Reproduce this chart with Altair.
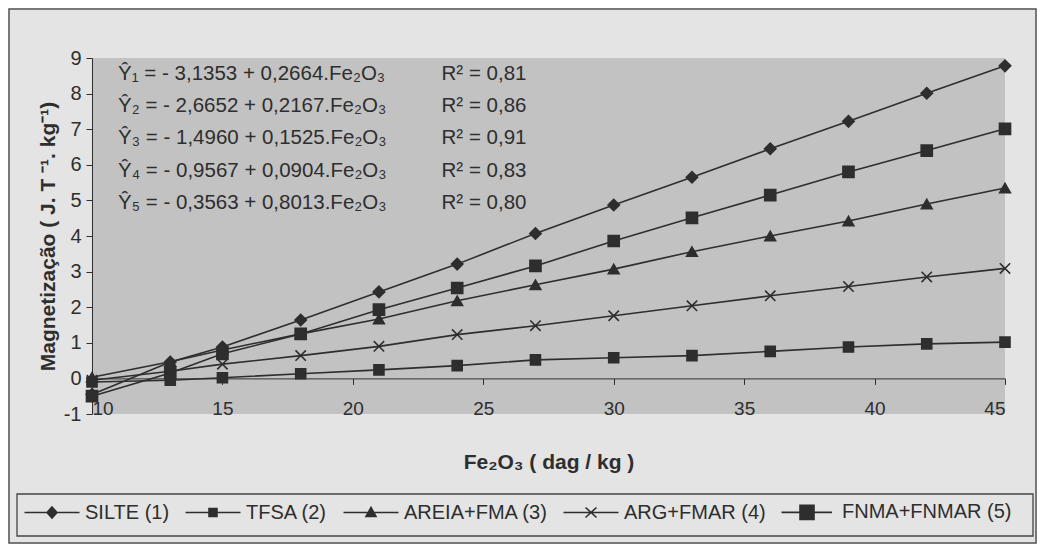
import altair as alt
import pandas as pd

fe2o3 = [10, 13, 15, 18, 21, 24, 27, 30, 33, 36, 39, 42, 45]
silte = [-0.45, 0.46, 0.88, 1.64, 2.43, 3.21, 4.07, 4.87, 5.65, 6.45, 7.22, 8.01, 8.78]
tfsa = [-0.50, 0.15, 0.69, 1.25, 1.93, 2.54, 3.16, 3.86, 4.51, 5.15, 5.80, 6.40, 7.01]
areia = [0.03, 0.47, 0.80, 1.25, 1.67, 2.18, 2.63, 3.07, 3.56, 4.00, 4.42, 4.90, 5.35]
arg = [-0.05, 0.20, 0.40, 0.64, 0.90, 1.23, 1.48, 1.76, 2.04, 2.32, 2.58, 2.85, 3.09]
fnma = [-0.10, -0.05, 0.02, 0.13, 0.24, 0.36, 0.52, 0.58, 0.64, 0.76, 0.88, 0.97, 1.02]

series_names = ["SILTE (1)", "TFSA (2)", "AREIA+FMA (3)", "ARG+FMAR (4)", "FNMA+FNMAR (5)"]
series_values = [silte, tfsa, areia, arg, fnma]

eq_texts = [
    "Ŷ₁ = - 3,1353 + 0,2664.Fe₂O₃",
    "Ŷ₂ = - 2,6652 + 0,2167.Fe₂O₃",
    "Ŷ₃ = - 1,4960 + 0,1525.Fe₂O₃",
    "Ŷ₄ = - 0,9567 + 0,0904.Fe₂O₃",
    "Ŷ₅ = - 0,3563 + 0,8013.Fe₂O₃",
]
r2_texts = ["R² = 0,81", "R² = 0,86", "R² = 0,91", "R² = 0,83", "R² = 0,80"]

x_ticks = [10, 15, 20, 25, 30, 35, 40, 45]
y_ticks = [-1, 0, 1, 2, 3, 4, 5, 6, 7, 8, 9]

INK = "#2e2e2e"
FONT = "Liberation Sans"

rows = []
for name, vals in zip(series_names, series_values):
    for xv, yv in zip(fe2o3, vals):
        rows.append({"series": name, "series_leg": name, "series_leg2": name, "x": xv, "y": yv})
df = pd.DataFrame(rows)

ann_rows = []
for i, (e, r) in enumerate(zip(eq_texts, r2_texts)):
    ann_rows.append({"t": e, "x": 11.0, "y": 8.56 - 0.91 * i})
    ann_rows.append({"t": r, "x": 23.4, "y": 8.56 - 0.91 * i})
ann = pd.DataFrame(ann_rows)

W, H = 913, 356

x_enc = alt.X(
    "x:Q",
    scale=alt.Scale(domain=[10, 45], nice=False, zero=False),
    axis=alt.Axis(
        values=x_ticks, offset=-H / 10.0, tickSize=6, labelPadding=15,
        domainColor=INK, tickColor=INK, labelColor=INK, labelFontSize=19,
        labelFont=FONT, grid=False, labelOverlap=False, title="Fe₂O₃ ( dag / kg )",
        titleFont=FONT, titleFontSize=21, titleFontWeight="bold", titleColor=INK,
        titleY=84, titleBaseline="middle",
    ),
)
y_enc = alt.Y(
    "y:Q",
    scale=alt.Scale(domain=[-1, 9], nice=False, zero=False),
    axis=alt.Axis(
        values=y_ticks, tickCount=11, tickSize=6, labelPadding=5, domainColor=INK, tickColor=INK,
        labelColor=INK, labelFontSize=20, labelFont=FONT, grid=False, labelOverlap=False,
        labelExpr="'' + datum.value",
        title="Magnetização ( J. T ⁻¹. kg⁻¹)", titleFont=FONT, titleFontSize=21,
        titleFontWeight="bold", titleColor=INK, titlePadding=5,
    ),
)

marker_shapes = ["diamond", "square", "triangle-up", "M-1,-1L1,1M1,-1L-1,1", "square"]
marker_sizes = [130, 100, 130, 130, 320]
legend_shapes = [
    "M-2.1,0H8.9M3.4,-1.1L4.4,0L3.4,1.1L2.4,0Z",
    "M-2.1,0H8.9M2.6,-0.8H4.2V0.8H2.6Z",
    "M-2.1,0H8.9M3.4,-1L4.4,0.8H2.4Z",
    "M-2.1,0H8.9M2.3,-1L4.5,1M4.5,-1L2.3,1",
    "M-2.1,0H8.0M1.6,-1.4H4.4V1.4H1.6Z",
]

base = alt.Chart(df)

lines = base.mark_line(color=INK, strokeWidth=1.6).encode(x=x_enc, y=y_enc, detail="series:N")

points = base.mark_point(filled=True, fill=INK, stroke=INK, strokeWidth=1.6, opacity=1).encode(
    x=x_enc, y=y_enc,
    shape=alt.Shape("series:N", scale=alt.Scale(domain=series_names, range=marker_shapes), legend=None),
    size=alt.Size("series:N", scale=alt.Scale(domain=series_names, range=marker_sizes), legend=None),
)

legend_common = dict(
    title=None, orient="none", legendX=-75, legendY=436, direction="horizontal",
    columns=5, symbolSize=100, symbolStrokeWidth=1.6, symbolOpacity=1,
    labelFont=FONT, labelFontSize=20, labelOffset=40, columnPadding=12,
    padding=8, labelLimit=300,
)

legend_fill = base.mark_point(filled=True, fill=INK, opacity=0).encode(
    x=x_enc, y=y_enc,
    shape=alt.Shape(
        "series_leg:N",
        scale=alt.Scale(domain=series_names, range=legend_shapes),
        legend=alt.Legend(labelColor=INK, **legend_common),
    ),
)

legend_stroke = base.mark_point(filled=False, stroke=INK, strokeWidth=1.6, opacity=0).encode(
    x=x_enc, y=y_enc,
    shape=alt.Shape(
        "series_leg2:N",
        scale=alt.Scale(domain=series_names, range=legend_shapes),
        legend=alt.Legend(labelColor="transparent", symbolStrokeColor=INK, **legend_common),
    ),
)

texts = alt.Chart(ann).mark_text(align="left", baseline="middle", fontSize=20.5, font=FONT, color=INK).encode(
    x=x_enc, y=y_enc, text="t:N"
)

deco = pd.DataFrame({"k": [0]})
frame = alt.Chart(deco).mark_rect(fill=None, stroke="#555", strokeWidth=1.5, clip=False).encode(
    x=alt.value(-83), x2=alt.value(944), y=alt.value(-49), y2=alt.value(485)
)
legend_box = alt.Chart(deco).mark_rect(fill=None, stroke="#444", strokeWidth=1.3, clip=False).encode(
    x=alt.value(-75), x2=alt.value(941), y=alt.value(436), y2=alt.value(478)
)

chart = (
    alt.layer(lines, points, legend_fill, legend_stroke, texts, frame, legend_box)
    .resolve_scale(shape="independent", size="independent")
    .resolve_legend(shape="independent")
    .properties(width=W, height=H, padding={"left": 84, "top": 50, "right": 32, "bottom": 130},
                autosize=alt.AutoSizeParams(type="none"), background="#e4e4e4")
    .configure_view(fill="#c2c2c2", stroke=None)
    .configure_axis(labelOverlap=False)
)

chart.save("out.html", embed_options={"renderer": "svg", "actions": False})
